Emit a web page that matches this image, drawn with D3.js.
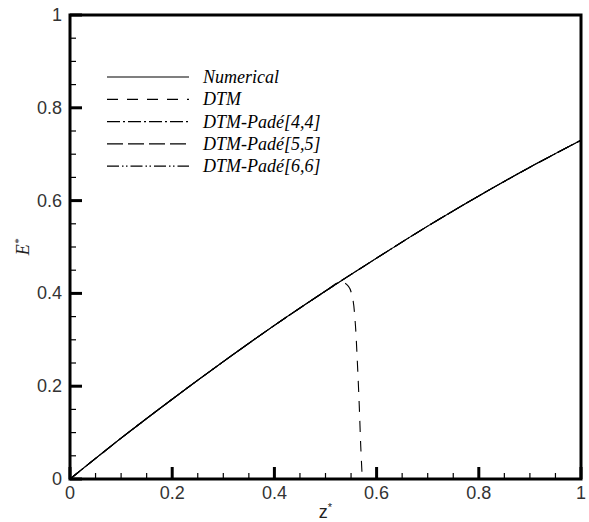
<!DOCTYPE html>
<html>
<head>
<meta charset="utf-8">
<script src="https://cdn.jsdelivr.net/npm/d3@7"></script>
<style>
  body { margin: 0; background: #fff; }
</style>
</head>
<body>
<div id="chart"></div>
<script>
// data
var zNum = [0, 0.1, 0.2, 0.3, 0.4, 0.5, 0.6, 0.7, 0.8, 0.9, 1.0]
var eNum = [0, 0.088, 0.172, 0.253, 0.331, 0.405, 0.476, 0.545, 0.61, 0.672, 0.73]
var zDtm = [0, 0.1, 0.2, 0.3, 0.4, 0.5, 0.53, 0.545, 0.553, 0.558, 0.562, 0.566, 0.569, 0.572]
var eDtm = [0, 0.088, 0.172, 0.253, 0.331, 0.405, 0.425, 0.415, 0.39, 0.34, 0.26, 0.16, 0.07, 0]
var seriesNames = ["Numerical", "DTM", "DTM-Padé[4,4]", "DTM-Padé[5,5]", "DTM-Padé[6,6]"]
var dashes = [null, "11,9", "13,3,2,3", "16,5", "12,3,1.5,2.5,1.5,3"]
var xTicks = [0, 0.2, 0.4, 0.6, 0.8, 1]
var yTicks = [0, 0.2, 0.4, 0.6, 0.8, 1]

var sansFont = "'Liberation Sans', Arial, sans-serif"
var serifFont = "'Liberation Serif', 'Times New Roman', serif"

var W = 589, H = 522
var m = {left: 70, top: 15, right: 8, bottom: 43}
var iw = W - m.left - m.right, ih = H - m.top - m.bottom

var svg = d3.select("#chart").append("svg")
    .attr("width", W).attr("height", H)

var x = d3.scaleLinear().domain([0, 1]).range([m.left, m.left + iw])
var y = d3.scaleLinear().domain([0, 1]).range([m.top + ih, m.top])

var line = d3.line()
    .x(function(d){ return x(d[0]) })
    .y(function(d){ return y(d[1]) })
    .curve(d3.curveCatmullRom)

var numPts = zNum.map(function(z, i){ return [z, eNum[i]] })
var dtmPts = zDtm.map(function(z, i){ return [z, eDtm[i]] })
var seriesData = [numPts, dtmPts, numPts, numPts, numPts]

// curves (the Padé ones lie on top of the numerical one)
seriesData.forEach(function(pts, i) {
  svg.append("path")
    .datum(pts)
    .attr("d", line)
    .attr("fill", "none")
    .attr("stroke", "#000")
    .attr("stroke-width", 1.1)
    .attr("stroke-dasharray", dashes[i])
})

// minor + major ticks, inside, left and bottom only
var minor = d3.range(0, 1.0001, 0.05)
minor.forEach(function(v) {
  var major = Math.abs(v * 5 - Math.round(v * 5)) < 1e-6
  var len = major ? 12 : 6
  var sw = major ? 3 : 1.2
  svg.append("line")
    .attr("x1", x(v)).attr("x2", x(v))
    .attr("y1", y(0)).attr("y2", y(0) - len)
    .attr("stroke", "#000").attr("stroke-width", sw)
  svg.append("line")
    .attr("y1", y(v)).attr("y2", y(v))
    .attr("x1", x(0)).attr("x2", x(0) + len)
    .attr("stroke", "#000").attr("stroke-width", sw)
})

// frame
svg.append("rect")
  .attr("x", m.left).attr("y", m.top)
  .attr("width", iw).attr("height", ih)
  .attr("fill", "none").attr("stroke", "#000").attr("stroke-width", 3)

// tick labels
svg.append("g").selectAll("text").data(xTicks).enter().append("text")
  .attr("x", function(d){ return x(d) }).attr("y", y(0) + 20)
  .attr("text-anchor", "middle")
  .style("font-family", sansFont)
  .attr("font-size", 18).attr("fill", "#333")
  .text(function(d){ return d })
svg.append("g").selectAll("text").data(yTicks).enter().append("text")
  .attr("x", x(0) - 8).attr("y", function(d){ return y(d) + 6 })
  .attr("text-anchor", "end")
  .style("font-family", sansFont)
  .attr("font-size", 18).attr("fill", "#333")
  .text(function(d){ return d })

// axis titles
var xt = svg.append("text")
  .attr("x", x(0.5)).attr("y", 518)
  .attr("text-anchor", "middle")
  .style("font-family", sansFont)
  .attr("font-size", 18).attr("fill", "#222")
xt.append("tspan").text("z")
xt.append("tspan").attr("dy", -7).attr("font-size", 11).text("*")

var yt = svg.append("text")
  .attr("transform", "translate(29," + y(0.5) + ") rotate(-90)")
  .attr("text-anchor", "middle")
  .style("font-family", serifFont)
  .attr("font-style", "italic")
  .attr("font-size", 18).attr("fill", "#222")
yt.append("tspan").text("E")
yt.append("tspan").attr("dy", -7).attr("font-size", 11).text("*")

// legend
var lg = svg.append("g")
seriesNames.forEach(function(name, i) {
  var ly = 77 + i * 22.3
  lg.append("line")
    .attr("x1", 107).attr("x2", 189)
    .attr("y1", ly).attr("y2", ly)
    .attr("stroke", "#000").attr("stroke-width", 1.2)
    .attr("stroke-dasharray", dashes[i])
  lg.append("text")
    .attr("x", 203).attr("y", ly + 6)
    .style("font-family", serifFont)
    .attr("font-style", "italic")
    .attr("font-size", 18).attr("fill", "#000")
    .text(name)
})
</script>
</body>
</html>
